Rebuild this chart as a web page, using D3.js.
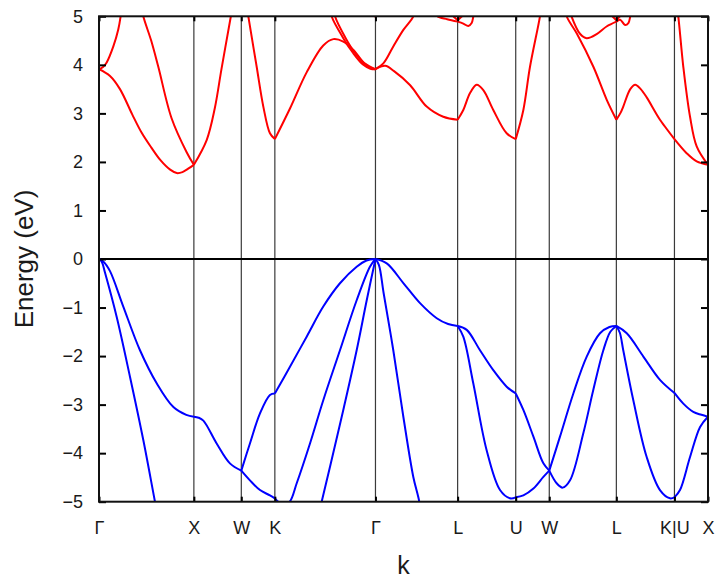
<!DOCTYPE html>
<html><head><meta charset="utf-8">
<script src="https://cdn.jsdelivr.net/npm/d3@7"></script>
<style>
html,body{margin:0;padding:0;background:#fff;}
svg{display:block;font-family:"Liberation Sans",Arial,sans-serif;}
</style></head>
<body>
<svg id="chart" width="715" height="580"></svg>
<script>
// High-symmetry points along the path (units of 2π/a)
const kPoints = [0, 1, 1.5, 1.8536, 2.9142, 3.7802, 4.3926, 4.7462, 5.4533, 6.0657, 6.4193];
const kLabels = ["Γ","X","W","K","Γ","L","U","W","L","K|U","X"];
const yTicks = [-5,-4,-3,-2,-1,0,1,2,3,4,5];

// Valence bands (blue), each segment as [k, E]
const valenceGX = [
  [[0,0],[0.05,-0.06],[0.116,-0.25],[0.256,-0.98],[0.432,-1.88],[0.608,-2.56],[0.784,-3.05],[0.92,-3.21],[1,-3.25]],
  [[0,0],[0.03,-0.06],[0.063,-0.28],[0.186,-1.19],[0.327,-2.43],[0.467,-3.73],[0.59,-5.0],[0.63,-5.4]]
];
const valenceXW = [
  [[1,-3.25],[1.05,-3.27],[1.10,-3.33],[1.24,-3.80],[1.38,-4.21],[1.5,-4.36]]
];
const valenceWK = [
  [[1.5,-4.36],[1.591,-3.80],[1.697,-3.18],[1.802,-2.80],[1.8536,-2.77]],
  [[1.5,-4.36],[1.591,-4.56],[1.697,-4.76],[1.802,-4.87],[1.8536,-4.93]]
];
const valenceKG = [
  [[1.8536,-2.77],[2.013,-2.22],[2.189,-1.60],[2.364,-0.98],[2.540,-0.50],[2.716,-0.16],[2.82,-0.03],[2.9142,0]],
  [[1.8536,-4.93],[1.90,-5.02],[1.945,-5.06],[2.01,-5.0],[2.084,-4.62],[2.224,-3.80],[2.364,-2.91],[2.540,-1.88],[2.716,-0.85],[2.856,-0.16],[2.9142,0]],
  [[2.30,-5.4],[2.347,-5.0],[2.435,-4.28],[2.575,-3.11],[2.716,-1.88],[2.822,-0.85],[2.9142,0]]
];
const valenceGL = [
  [[2.9142,0],[3.033,-0.09],[3.21,-0.50],[3.384,-0.91],[3.56,-1.22],[3.68,-1.34],[3.7802,-1.38]],
  [[2.9142,0],[2.95,-0.12],[3.0,-0.7],[3.102,-1.88],[3.208,-3.25],[3.313,-4.49],[3.376,-5.0],[3.40,-5.4]]
];
const valenceLU = [
  [[3.7802,-1.38],[3.876,-1.46],[4.016,-1.88],[4.156,-2.29],[4.297,-2.63],[4.3926,-2.77]],
  [[3.7802,-1.38],[3.84,-1.60],[3.945,-2.56],[4.086,-3.94],[4.227,-4.76],[4.332,-4.93],[4.3926,-4.91]]
];
const valenceUW = [
  [[4.3926,-2.77],[4.473,-3.11],[4.579,-3.66],[4.684,-4.21],[4.7462,-4.36]],
  [[4.3926,-4.91],[4.473,-4.87],[4.579,-4.73],[4.684,-4.49],[4.7462,-4.36]]
];
const valenceWL = [
  [[4.7462,-4.36],[4.859,-3.66],[5.0,-2.77],[5.141,-2.01],[5.281,-1.53],[5.38,-1.40],[5.4533,-1.38]],
  [[4.7462,-4.36],[4.824,-4.62],[4.888,-4.71],[4.965,-4.56],[5.105,-3.59],[5.21,-2.70],[5.316,-1.88],[5.39,-1.50],[5.4533,-1.38]]
];
const valenceLK = [
  [[5.4533,-1.38],[5.563,-1.53],[5.738,-2.01],[5.913,-2.49],[6.0657,-2.76]],
  [[5.4533,-1.38],[5.49,-1.52],[5.526,-1.88],[5.632,-2.91],[5.773,-4.08],[5.913,-4.76],[6.019,-4.93],[6.0657,-4.91]]
];
const valenceUX = [
  [[6.0657,-2.76],[6.159,-2.98],[6.264,-3.15],[6.35,-3.21],[6.4193,-3.25]],
  [[6.0657,-4.91],[6.124,-4.76],[6.23,-4.08],[6.336,-3.46],[6.4193,-3.25]]
];

// Conduction bands (red)
const conductionGX = [
  [[0,3.91],[0.116,3.77],[0.221,3.50],[0.35,2.98],[0.45,2.60],[0.55,2.30],[0.65,2.03],[0.75,1.84],[0.82,1.77],[0.88,1.79],[0.94,1.86],[1,1.94]],
  [[0,3.91],[0.04,3.95],[0.081,4.05],[0.151,4.38],[0.203,4.73],[0.228,5.0],[0.24,5.2]],
  [[0.45,5.2],[0.467,5.0],[0.55,4.5],[0.625,3.96],[0.765,2.9],[0.924,2.2],[1,1.94]],
  [[0,4.98],[0.05,5.3]]
];
const conductionXW = [
  [[1,1.94],[1.135,2.45],[1.22,3.1],[1.29,3.9],[1.39,5.0],[1.41,5.2]]
];
const conductionWK = [
  [[1.56,5.2],[1.574,5.0],[1.662,3.96],[1.732,3.14],[1.802,2.59],[1.8536,2.47]]
];
const conductionKG = [
  [[1.8536,2.47],[2.013,3.1],[2.19,3.85],[2.364,4.40],[2.47,4.53],[2.575,4.48],[2.68,4.31],[2.80,4.03],[2.9142,3.91]],
  [[2.44,5.2],[2.452,5.0],[2.575,4.55],[2.68,4.24],[2.786,4.0],[2.86,3.92],[2.9142,3.91]],
  [[2.475,5.2],[2.488,5.0],[2.60,4.55],[2.70,4.24],[2.80,4.02],[2.87,3.93],[2.9142,3.91]],
  [[2.86,5.3],[2.9142,4.98]]
];
const conductionGL = [
  [[2.9142,3.91],[3.017,3.98],[3.11,3.87],[3.28,3.58],[3.454,3.14],[3.629,2.93],[3.7802,2.87]],
  [[2.9142,3.91],[2.997,4.03],[3.102,4.38],[3.208,4.72],[3.313,5.0],[3.33,5.2]],
  [[2.9142,4.98],[2.97,5.3]],
  [[3.55,5.1],[3.568,5.0],[3.67,4.94],[3.7802,4.89]],
  [[3.70,5.06],[3.7802,4.92]]
];
const conductionLU = [
  [[3.7802,2.87],[3.84,3.07],[3.911,3.42],[3.981,3.59],[4.051,3.48],[4.156,3.07],[4.297,2.59],[4.3926,2.47]],
  [[3.7802,4.89],[3.84,4.85],[3.893,4.80],[3.928,4.86],[3.946,5.0],[3.96,5.1]],
  [[3.7802,4.92],[3.86,5.06]]
];
const conductionUW = [
  [[4.3926,2.47],[4.473,3.07],[4.543,3.96],[4.648,5.0],[4.66,5.2]]
];
const conductionWL = [
  [[4.92,5.2],[4.93,5.0],[5.035,4.65],[5.211,3.96],[5.352,3.28],[5.4533,2.87]],
  [[4.965,5.1],[4.98,5.0],[5.07,4.64],[5.14,4.55],[5.25,4.64],[5.35,4.79],[5.4533,4.89]],
  [[5.38,5.06],[5.4533,4.92]]
];
const conductionLK = [
  [[5.4533,2.87],[5.50,3.02],[5.526,3.14],[5.60,3.50],[5.652,3.59],[5.71,3.50],[5.773,3.33],[5.913,2.87],[6.0657,2.47]],
  [[5.4533,4.89],[5.493,4.93],[5.545,4.82],[5.58,4.86],[5.60,5.0],[5.61,5.1]],
  [[5.4533,4.92],[5.52,5.06]]
];
const conductionUX = [
  [[6.0657,2.47],[6.194,2.18],[6.30,2.01],[6.4193,1.94]],
  [[6.09,5.2],[6.106,5.0],[6.159,3.96],[6.23,2.93],[6.30,2.32],[6.4193,1.94]]
];

const valenceBands = [].concat(valenceGX, valenceXW, valenceWK, valenceKG, valenceGL, valenceLU, valenceUW, valenceWL, valenceLK, valenceUX);
const conductionBands = [].concat(conductionGX, conductionXW, conductionWK, conductionKG, conductionGL, conductionLU, conductionUW, conductionWL, conductionLK, conductionUX);

const svg = d3.select("#chart");
const L = 99, R = 708, T = 16.3, B = 501.7;
const x = d3.scaleLinear().domain([0, kPoints[kPoints.length-1]]).range([L, R]);
const y = d3.scaleLinear().domain([-5, 5]).range([B, T]);

svg.append("defs").append("clipPath").attr("id","clip")
  .append("rect").attr("x", L).attr("y", T).attr("width", R-L).attr("height", B-T);

// vertical lines at high-symmetry points
svg.append("g").selectAll("line").data(kPoints.slice(1, -1)).join("line")
  .attr("x1", d => x(d)).attr("x2", d => x(d))
  .attr("y1", T).attr("y2", B)
  .attr("stroke", "#3a3a3a").attr("stroke-width", 1.2);

// zero line
svg.append("line").attr("x1", L).attr("x2", R).attr("y1", y(0)).attr("y2", y(0))
  .attr("stroke", "#000").attr("stroke-width", 2);

const line = d3.line().x(d => x(d[0])).y(d => y(d[1])).curve(d3.curveCatmullRom.alpha(0.5));
const bands = svg.append("g").attr("clip-path", "url(#clip)");
bands.selectAll("path.cb").data(conductionBands).join("path").attr("class","cb")
  .attr("d", line).attr("fill","none").attr("stroke","#ff0000").attr("stroke-width",2)
  .attr("stroke-linejoin","round");
bands.selectAll("path.vb").data(valenceBands).join("path").attr("class","vb")
  .attr("d", line).attr("fill","none").attr("stroke","#0000ff").attr("stroke-width",2)
  .attr("stroke-linejoin","round");

// axes
const yAxisL = d3.axisLeft(y).tickValues(yTicks).tickSizeInner(-7).tickSizeOuter(0)
  .tickPadding(16).tickFormat(d => d < 0 ? "\u2212" + Math.abs(d) : String(d));
const gyl = svg.append("g").attr("transform", `translate(${L},0)`).call(yAxisL);
const yAxisR = d3.axisRight(y).tickValues(yTicks).tickSizeInner(-7).tickSizeOuter(0).tickFormat("");
const gyr = svg.append("g").attr("transform", `translate(${R},0)`).call(yAxisR);
const xAxisB = d3.axisBottom(x).tickValues(kPoints).tickSizeInner(-5).tickSizeOuter(0)
  .tickPadding(20).tickFormat((d, i) => kLabels[i]);
const gxb = svg.append("g").attr("transform", `translate(0,${B})`).call(xAxisB);
const xAxisT = d3.axisTop(x).tickValues(kPoints).tickSizeInner(-5).tickSizeOuter(0).tickFormat("");
const gxt = svg.append("g").attr("transform", `translate(0,${T})`).call(xAxisT);

[gyl, gyr, gxb, gxt].forEach(g => {
  g.select(".domain").remove();
  g.selectAll(".tick line").attr("stroke", "#000").attr("stroke-width", 2);
  g.selectAll("text").attr("fill", "#1a1a1a").style("font-size", "18px")
    .style("font-family", '"Liberation Sans", Arial, sans-serif');
});

// frame
svg.append("rect").attr("x", L).attr("y", T).attr("width", R-L).attr("height", B-T)
  .attr("fill", "none").attr("stroke", "#111").attr("stroke-width", 2);

// axis titles
svg.append("text").attr("transform", `translate(33,259) rotate(-90)`)
  .attr("text-anchor", "middle").style("font-size", "26px").attr("fill", "#1a1a1a")
  .text("Energy (eV)");
svg.append("text").attr("x", (L+R)/2).attr("y", 574)
  .attr("text-anchor", "middle").style("font-size", "25px").attr("fill", "#1a1a1a")
  .text("k");
</script>
</body></html>
